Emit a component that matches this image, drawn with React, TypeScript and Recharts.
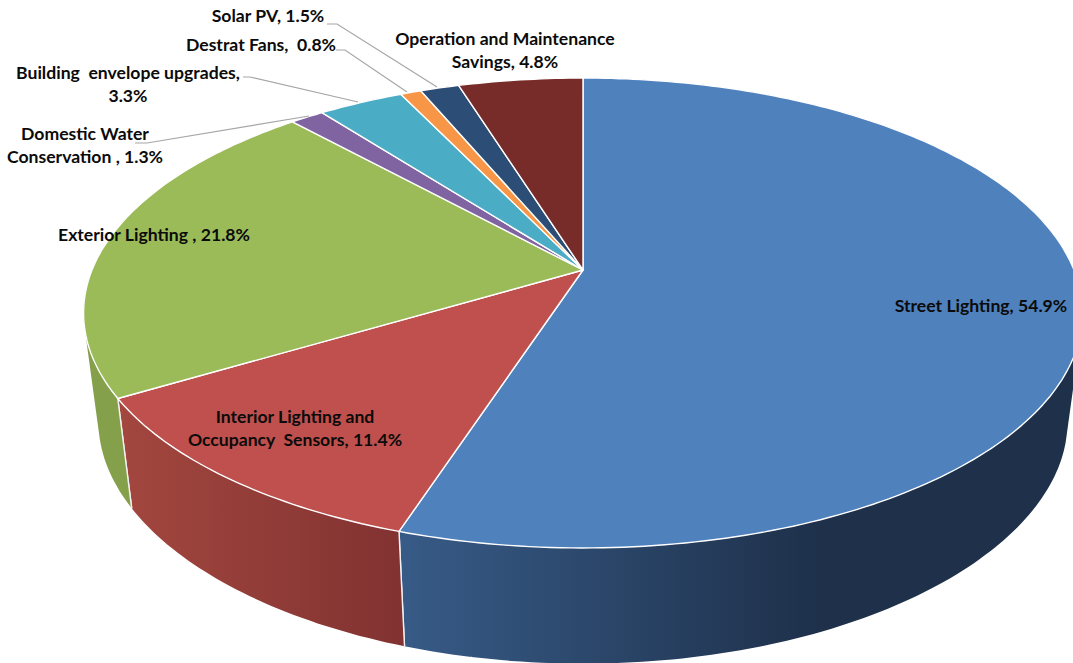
import React from 'react';
import { PieChart, Pie } from 'recharts';

const categories = [
  'Street Lighting',
  'Interior Lighting and Occupancy Sensors',
  'Exterior Lighting',
  'Domestic Water Conservation',
  'Building envelope upgrades',
  'Destrat Fans',
  'Solar PV',
  'Operation and Maintenance Savings',
];
const shares = [54.9, 11.4, 21.8, 1.3, 3.3, 0.8, 1.5, 4.8];
const labelLines = [
  ['Street Lighting, 54.9%'],
  ['Interior Lighting and', 'Occupancy  Sensors, 11.4%'],
  ['Exterior Lighting , 21.8%'],
  ['Domestic Water', 'Conservation , 1.3%'],
  ['Building  envelope upgrades,', '3.3%'],
  ['Destrat Fans,  0.8%'],
  ['Solar PV, 1.5%'],
  ['Operation and Maintenance', 'Savings, 4.8%'],
];

const topColors = ['#4f81bd', '#c0504d', '#9bbb59', '#8064a2', '#4bacc6', '#f79646', '#2c4d75', '#772c2a'];
// left and right shade of each slice's side wall, and where the right shade is reached
const wallShades = [
  ['#375b87', '#1e304a'],
  ['#a3473f', '#813231'],
  ['#84a04a', '#84a04a'],
  ['#5f4a7a', '#5f4a7a'],
  ['#38808f', '#38808f'],
  ['#b86f34', '#b86f34'],
  ['#213a58', '#213a58'],
  ['#59211f', '#59211f'],
];
const wallFade = [0.62, 1, 1, 1, 1, 1, 1, 1];

// label anchor and baselines, leader line points where the label sits off the pie
const labelX = [981, 295, 154, 85, 128, 261, 268, 505];
const labelY = [312, 423, 241, 140, 79, 51, 22, 45];
const leaders: (number[][] | null)[] = [
  null,
  null,
  null,
  [[135, 143], [147, 143], [309, 116]],
  [[243, 77], [250, 77], [358, 102]],
  [[336, 50], [345, 50], [407, 92]],
  [[327, 24], [337, 24], [437, 87]],
  null,
];

const CX = 583;
const CY = 270;
const RADIUS = 491;
const TILT = 0.4625; // vertical squash of the disc
const PERSPECTIVE = 0.183; // front edge closer to the viewer than the back edge
const LOWER_SCALE = 0.97;

// project a recharts polar angle onto the tilted disc, relative to the apex
const project = (deg: number, radius: number) => {
  const a = ((90 - deg) * Math.PI) / 180;
  const u = Math.sin(a);
  const v = -Math.cos(a);
  const w = 1 - PERSPECTIVE * v;
  return [(radius * u) / w, (radius * TILT * v) / w];
};

// same angle on the bottom rim of the pie
const projectLower = (deg: number, radius: number) => {
  const p = project(deg, radius);
  const v = -Math.cos(((90 - deg) * Math.PI) / 180);
  return [p[0] * LOWER_SCALE, p[1] * LOWER_SCALE + 110 + 14 * v * v];
};

const angleSteps = (start: number, end: number) => {
  const steps = Math.max(2, Math.ceil(Math.abs(end - start)));
  const out: number[] = [];
  for (let i = 0; i <= steps; i++) out.push(start + ((end - start) * i) / steps);
  return out;
};

const toPath = (pts: number[][]) =>
  pts.map((p, i) => `${i === 0 ? 'M' : 'L'}${p[0].toFixed(1)} ${p[1].toFixed(1)}`).join(' ') + ' Z';

const signedArea = (pts: number[][]) =>
  pts.reduce((sum, p, i) => {
    const q = pts[(i + 1) % pts.length];
    return sum + p[0] * q[1] - q[0] * p[1];
  }, 0);

const TopSlice = (props: any) => {
  const { cx, cy, outerRadius, startAngle, endAngle, fill } = props;
  const pts = [[0, 0], ...angleSteps(startAngle, endAngle).map((a) => project(a, outerRadius))];
  return (
    <path
      d={toPath(pts)}
      transform={`translate(${cx} ${cy})`}
      fill={fill}
      stroke="#ffffff"
      strokeWidth={1.4}
      strokeLinejoin="round"
    />
  );
};

const WallSlice = (props: any) => {
  const { cx, cy, outerRadius, startAngle, endAngle, index } = props;
  const angles = angleSteps(startAngle, endAngle);
  // one quad per step, all wound the same way so the fold at the silhouette stays filled
  const quads = angles.slice(1).map((a, i) => {
    const b = angles[i];
    const quad = [project(b, outerRadius), project(a, outerRadius), projectLower(a, outerRadius), projectLower(b, outerRadius)];
    return toPath(signedArea(quad) < 0 ? quad.reverse() : quad);
  });
  const edge = (a: number) => toPath([project(a, outerRadius), projectLower(a, outerRadius)]);
  const id = `wall-${index}`;
  return (
    <g transform={`translate(${cx} ${cy})`}>
      <defs>
        <linearGradient id={id} x1="0" y1="0" x2="1" y2="0">
          <stop offset="0%" stopColor={wallShades[index][0]} />
          <stop offset={`${wallFade[index] * 100}%`} stopColor={wallShades[index][1]} />
        </linearGradient>
      </defs>
      <path d={quads.join(' ')} fill={`url(#${id})`} stroke="none" />
      <path d={`${edge(startAngle)} ${edge(endAngle)}`} fill="none" stroke="#f2f2f2" strokeWidth={1.4} />
    </g>
  );
};

const SliceLabel = (props: any) => {
  const { index } = props;
  const lines = labelLines[index];
  const leader = leaders[index];
  return (
    <g>
      {leader && (
        <polyline
          points={leader.map((p) => p.join(',')).join(' ')}
          fill="none"
          stroke="#a6a6a6"
          strokeWidth={1.2}
        />
      )}
      <text
        textAnchor="middle"
        fontFamily="Lato, 'Open Sans', sans-serif"
        fontWeight={700}
        fontSize={17.6}
        fill="#0b0b0b"
        xmlSpace="preserve"
      >
        {lines.map((line, i) => (
          <tspan key={i} x={labelX[index]} y={labelY[index] + i * 23}>
            {line}
          </tspan>
        ))}
      </text>
    </g>
  );
};

const data = categories.map((name, i) => ({ name, value: shares[i], fill: topColors[i] }));

export default function App() {
  return (
    <div style={{ position: 'fixed', left: 0, top: 0, width: 1073, height: 663, overflow: 'hidden', background: '#fff' }}>
      <PieChart width={1073} height={663} margin={{ top: 0, right: 0, bottom: 0, left: 0 }}>
        <Pie
          data={data}
          dataKey="value"
          nameKey="name"
          cx={CX}
          cy={CY}
          outerRadius={RADIUS}
          startAngle={90}
          endAngle={-270}
          stroke="none"
          shape={WallSlice}
          isAnimationActive={false}
        />
        <Pie
          data={data}
          dataKey="value"
          nameKey="name"
          cx={CX}
          cy={CY}
          outerRadius={RADIUS}
          startAngle={90}
          endAngle={-270}
          stroke="none"
          shape={TopSlice}
          label={SliceLabel}
          labelLine={false}
          isAnimationActive={false}
        />
      </PieChart>
    </div>
  );
}
